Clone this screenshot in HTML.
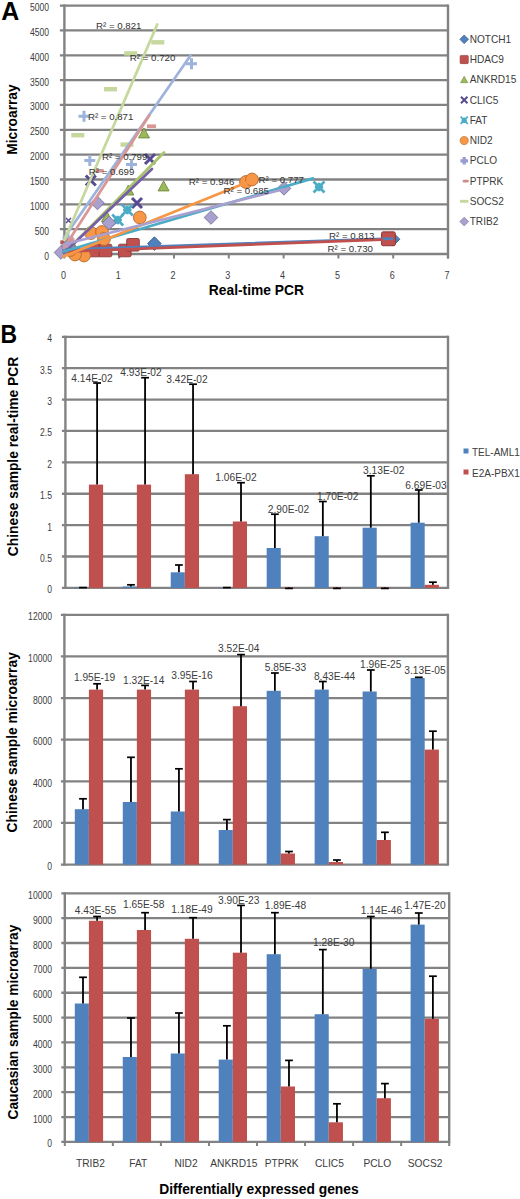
<!DOCTYPE html>
<html><head><meta charset="utf-8"><style>
html,body{margin:0;padding:0;background:#fff;}
body{width:520px;height:1199px;overflow:hidden;}
svg{display:block;font-family:"Liberation Sans", sans-serif;}
</style></head><body>
<svg width="520" height="1199" viewBox="0 0 520 1199">
<line x1="61.9" y1="336.8" x2="448" y2="336.8" stroke="#828282" stroke-width="2.3"/>
<line x1="61.9" y1="368.19" x2="448" y2="368.19" stroke="#828282" stroke-width="2.3"/>
<line x1="61.9" y1="399.57" x2="448" y2="399.57" stroke="#828282" stroke-width="2.3"/>
<line x1="61.9" y1="430.96" x2="448" y2="430.96" stroke="#828282" stroke-width="2.3"/>
<line x1="61.9" y1="462.35" x2="448" y2="462.35" stroke="#828282" stroke-width="2.3"/>
<line x1="61.9" y1="493.74" x2="448" y2="493.74" stroke="#828282" stroke-width="2.3"/>
<line x1="61.9" y1="525.12" x2="448" y2="525.12" stroke="#828282" stroke-width="2.3"/>
<line x1="61.9" y1="556.51" x2="448" y2="556.51" stroke="#828282" stroke-width="2.3"/>
<line x1="61.9" y1="587.9" x2="448" y2="587.9" stroke="#828282" stroke-width="2.3"/>
<rect x="74.8" y="587.3" width="14.1" height="0.6" fill="#4F81BD"/>
<rect x="88.9" y="484.6" width="14.2" height="103.3" fill="#C0504D"/>
<rect x="122.77" y="586.5" width="14.1" height="1.4" fill="#4F81BD"/>
<rect x="136.87" y="484.6" width="14.2" height="103.3" fill="#C0504D"/>
<rect x="170.74" y="572.3" width="14.1" height="15.6" fill="#4F81BD"/>
<rect x="184.84" y="474.2" width="14.2" height="113.7" fill="#C0504D"/>
<rect x="218.71" y="587.5" width="14.1" height="0.4" fill="#4F81BD"/>
<rect x="232.81" y="521.5" width="14.2" height="66.4" fill="#C0504D"/>
<rect x="266.68" y="548" width="14.1" height="39.9" fill="#4F81BD"/>
<rect x="280.78" y="587.6" width="14.2" height="0.3" fill="#C0504D"/>
<rect x="314.65" y="536.2" width="14.1" height="51.7" fill="#4F81BD"/>
<rect x="328.75" y="587.6" width="14.2" height="0.3" fill="#C0504D"/>
<rect x="362.62" y="527.7" width="14.1" height="60.2" fill="#4F81BD"/>
<rect x="376.72" y="587.6" width="14.2" height="0.3" fill="#C0504D"/>
<rect x="410.59" y="522.7" width="14.1" height="65.2" fill="#4F81BD"/>
<rect x="424.69" y="584.8" width="14.2" height="3.1" fill="#C0504D"/>
<line x1="65.4" y1="335.7" x2="65.4" y2="589" stroke="#828282" stroke-width="2.4"/>
<line x1="448" y1="335.7" x2="448" y2="589" stroke="#828282" stroke-width="2.4"/>
<line x1="83" y1="587.3" x2="83" y2="587.6" stroke="#000" stroke-width="1.8"/>
<line x1="79.1" y1="587.6" x2="86.9" y2="587.6" stroke="#000" stroke-width="1.7"/>
<line x1="97.1" y1="484.6" x2="97.1" y2="383" stroke="#000" stroke-width="1.8"/>
<line x1="93.2" y1="383" x2="101" y2="383" stroke="#000" stroke-width="1.7"/>
<line x1="130.97" y1="586.5" x2="130.97" y2="584.8" stroke="#000" stroke-width="1.8"/>
<line x1="127.07" y1="584.8" x2="134.87" y2="584.8" stroke="#000" stroke-width="1.7"/>
<line x1="145.07" y1="484.6" x2="145.07" y2="377.7" stroke="#000" stroke-width="1.8"/>
<line x1="141.17" y1="377.7" x2="148.97" y2="377.7" stroke="#000" stroke-width="1.7"/>
<line x1="178.94" y1="572.3" x2="178.94" y2="565" stroke="#000" stroke-width="1.8"/>
<line x1="175.04" y1="565" x2="182.84" y2="565" stroke="#000" stroke-width="1.7"/>
<line x1="193.04" y1="474.2" x2="193.04" y2="384.2" stroke="#000" stroke-width="1.8"/>
<line x1="189.14" y1="384.2" x2="196.94" y2="384.2" stroke="#000" stroke-width="1.7"/>
<line x1="226.91" y1="587.5" x2="226.91" y2="587.6" stroke="#000" stroke-width="1.8"/>
<line x1="223.01" y1="587.6" x2="230.81" y2="587.6" stroke="#000" stroke-width="1.7"/>
<line x1="241.01" y1="521.5" x2="241.01" y2="482.7" stroke="#000" stroke-width="1.8"/>
<line x1="237.11" y1="482.7" x2="244.91" y2="482.7" stroke="#000" stroke-width="1.7"/>
<line x1="274.88" y1="548" x2="274.88" y2="514.2" stroke="#000" stroke-width="1.8"/>
<line x1="270.98" y1="514.2" x2="278.78" y2="514.2" stroke="#000" stroke-width="1.7"/>
<line x1="288.98" y1="587.6" x2="288.98" y2="588.4" stroke="#000" stroke-width="1.8"/>
<line x1="285.08" y1="588.4" x2="292.88" y2="588.4" stroke="#000" stroke-width="1.7"/>
<line x1="322.85" y1="536.2" x2="322.85" y2="501.5" stroke="#000" stroke-width="1.8"/>
<line x1="318.95" y1="501.5" x2="326.75" y2="501.5" stroke="#000" stroke-width="1.7"/>
<line x1="336.95" y1="587.6" x2="336.95" y2="588.4" stroke="#000" stroke-width="1.8"/>
<line x1="333.05" y1="588.4" x2="340.85" y2="588.4" stroke="#000" stroke-width="1.7"/>
<line x1="370.82" y1="527.7" x2="370.82" y2="475.8" stroke="#000" stroke-width="1.8"/>
<line x1="366.92" y1="475.8" x2="374.72" y2="475.8" stroke="#000" stroke-width="1.7"/>
<line x1="384.92" y1="587.6" x2="384.92" y2="588.4" stroke="#000" stroke-width="1.8"/>
<line x1="381.02" y1="588.4" x2="388.82" y2="588.4" stroke="#000" stroke-width="1.7"/>
<line x1="418.79" y1="522.7" x2="418.79" y2="490" stroke="#000" stroke-width="1.8"/>
<line x1="414.89" y1="490" x2="422.69" y2="490" stroke="#000" stroke-width="1.7"/>
<line x1="432.89" y1="584.8" x2="432.89" y2="582.2" stroke="#000" stroke-width="1.8"/>
<line x1="428.99" y1="582.2" x2="436.79" y2="582.2" stroke="#000" stroke-width="1.7"/>
<text transform="translate(52,342.3) scale(0.86,1)" text-anchor="end" font-size="10" fill="#3c3c3c">4</text>
<text transform="translate(52,373.69) scale(0.86,1)" text-anchor="end" font-size="10" fill="#3c3c3c">3.5</text>
<text transform="translate(52,405.07) scale(0.86,1)" text-anchor="end" font-size="10" fill="#3c3c3c">3</text>
<text transform="translate(52,436.46) scale(0.86,1)" text-anchor="end" font-size="10" fill="#3c3c3c">2.5</text>
<text transform="translate(52,467.85) scale(0.86,1)" text-anchor="end" font-size="10" fill="#3c3c3c">2</text>
<text transform="translate(52,499.24) scale(0.86,1)" text-anchor="end" font-size="10" fill="#3c3c3c">1.5</text>
<text transform="translate(52,530.62) scale(0.86,1)" text-anchor="end" font-size="10" fill="#3c3c3c">1</text>
<text transform="translate(52,562.01) scale(0.86,1)" text-anchor="end" font-size="10" fill="#3c3c3c">0.5</text>
<text transform="translate(52,593.4) scale(0.86,1)" text-anchor="end" font-size="10" fill="#3c3c3c">0</text>
<text x="92" y="381.5" text-anchor="middle" font-size="10.2" fill="#3c3c3c">4.14E-02</text>
<text x="141" y="376.4" text-anchor="middle" font-size="10.2" fill="#3c3c3c">4.93E-02</text>
<text x="187" y="382.5" text-anchor="middle" font-size="10.2" fill="#3c3c3c">3.42E-02</text>
<text x="236" y="481" text-anchor="middle" font-size="10.2" fill="#3c3c3c">1.06E-02</text>
<text x="288.5" y="513.3" text-anchor="middle" font-size="10.2" fill="#3c3c3c">2.90E-02</text>
<text x="337.7" y="499.7" text-anchor="middle" font-size="10.2" fill="#3c3c3c">1.70E-02</text>
<text x="383.8" y="474.1" text-anchor="middle" font-size="10.2" fill="#3c3c3c">3.13E-02</text>
<text x="426" y="488.7" text-anchor="middle" font-size="10.2" fill="#3c3c3c">6.69E-03</text>
<line x1="60.9" y1="614.8" x2="447.9" y2="614.8" stroke="#828282" stroke-width="2.3"/>
<line x1="60.9" y1="656.43" x2="447.9" y2="656.43" stroke="#828282" stroke-width="2.3"/>
<line x1="60.9" y1="698.07" x2="447.9" y2="698.07" stroke="#828282" stroke-width="2.3"/>
<line x1="60.9" y1="739.7" x2="447.9" y2="739.7" stroke="#828282" stroke-width="2.3"/>
<line x1="60.9" y1="781.33" x2="447.9" y2="781.33" stroke="#828282" stroke-width="2.3"/>
<line x1="60.9" y1="822.97" x2="447.9" y2="822.97" stroke="#828282" stroke-width="2.3"/>
<line x1="60.9" y1="864.6" x2="447.9" y2="864.6" stroke="#828282" stroke-width="2.3"/>
<rect x="74.8" y="809.2" width="14.1" height="55.4" fill="#4F81BD"/>
<rect x="88.9" y="689.6" width="14.2" height="175" fill="#C0504D"/>
<rect x="122.77" y="802" width="14.1" height="62.6" fill="#4F81BD"/>
<rect x="136.87" y="689.6" width="14.2" height="175" fill="#C0504D"/>
<rect x="170.74" y="811.5" width="14.1" height="53.1" fill="#4F81BD"/>
<rect x="184.84" y="689.6" width="14.2" height="175" fill="#C0504D"/>
<rect x="218.71" y="830" width="14.1" height="34.6" fill="#4F81BD"/>
<rect x="232.81" y="706.2" width="14.2" height="158.4" fill="#C0504D"/>
<rect x="266.68" y="690.8" width="14.1" height="173.8" fill="#4F81BD"/>
<rect x="280.78" y="853.5" width="14.2" height="11.1" fill="#C0504D"/>
<rect x="314.65" y="689.6" width="14.1" height="175" fill="#4F81BD"/>
<rect x="328.75" y="862" width="14.2" height="2.6" fill="#C0504D"/>
<rect x="362.62" y="691.5" width="14.1" height="173.1" fill="#4F81BD"/>
<rect x="376.72" y="840" width="14.2" height="24.6" fill="#C0504D"/>
<rect x="410.59" y="678" width="14.1" height="186.6" fill="#4F81BD"/>
<rect x="424.69" y="749.6" width="14.2" height="115" fill="#C0504D"/>
<line x1="64.4" y1="613.7" x2="64.4" y2="865.7" stroke="#828282" stroke-width="2.4"/>
<line x1="447.9" y1="613.7" x2="447.9" y2="865.7" stroke="#828282" stroke-width="2.4"/>
<line x1="83" y1="809.2" x2="83" y2="798.8" stroke="#000" stroke-width="1.8"/>
<line x1="79.1" y1="798.8" x2="86.9" y2="798.8" stroke="#000" stroke-width="1.7"/>
<line x1="97.1" y1="689.6" x2="97.1" y2="683.8" stroke="#000" stroke-width="1.8"/>
<line x1="93.2" y1="683.8" x2="101" y2="683.8" stroke="#000" stroke-width="1.7"/>
<line x1="130.97" y1="802" x2="130.97" y2="757.3" stroke="#000" stroke-width="1.8"/>
<line x1="127.07" y1="757.3" x2="134.87" y2="757.3" stroke="#000" stroke-width="1.7"/>
<line x1="145.07" y1="689.6" x2="145.07" y2="685.4" stroke="#000" stroke-width="1.8"/>
<line x1="141.17" y1="685.4" x2="148.97" y2="685.4" stroke="#000" stroke-width="1.7"/>
<line x1="178.94" y1="811.5" x2="178.94" y2="768.8" stroke="#000" stroke-width="1.8"/>
<line x1="175.04" y1="768.8" x2="182.84" y2="768.8" stroke="#000" stroke-width="1.7"/>
<line x1="193.04" y1="689.6" x2="193.04" y2="681.5" stroke="#000" stroke-width="1.8"/>
<line x1="189.14" y1="681.5" x2="196.94" y2="681.5" stroke="#000" stroke-width="1.7"/>
<line x1="226.91" y1="830" x2="226.91" y2="819.6" stroke="#000" stroke-width="1.8"/>
<line x1="223.01" y1="819.6" x2="230.81" y2="819.6" stroke="#000" stroke-width="1.7"/>
<line x1="241.01" y1="706.2" x2="241.01" y2="654.6" stroke="#000" stroke-width="1.8"/>
<line x1="237.11" y1="654.6" x2="244.91" y2="654.6" stroke="#000" stroke-width="1.7"/>
<line x1="274.88" y1="690.8" x2="274.88" y2="673" stroke="#000" stroke-width="1.8"/>
<line x1="270.98" y1="673" x2="278.78" y2="673" stroke="#000" stroke-width="1.7"/>
<line x1="288.98" y1="853.5" x2="288.98" y2="851.5" stroke="#000" stroke-width="1.8"/>
<line x1="285.08" y1="851.5" x2="292.88" y2="851.5" stroke="#000" stroke-width="1.7"/>
<line x1="322.85" y1="689.6" x2="322.85" y2="681.5" stroke="#000" stroke-width="1.8"/>
<line x1="318.95" y1="681.5" x2="326.75" y2="681.5" stroke="#000" stroke-width="1.7"/>
<line x1="336.95" y1="862" x2="336.95" y2="860" stroke="#000" stroke-width="1.8"/>
<line x1="333.05" y1="860" x2="340.85" y2="860" stroke="#000" stroke-width="1.7"/>
<line x1="370.82" y1="691.5" x2="370.82" y2="670" stroke="#000" stroke-width="1.8"/>
<line x1="366.92" y1="670" x2="374.72" y2="670" stroke="#000" stroke-width="1.7"/>
<line x1="384.92" y1="840" x2="384.92" y2="832.3" stroke="#000" stroke-width="1.8"/>
<line x1="381.02" y1="832.3" x2="388.82" y2="832.3" stroke="#000" stroke-width="1.7"/>
<line x1="418.79" y1="678" x2="418.79" y2="677.3" stroke="#000" stroke-width="1.8"/>
<line x1="414.89" y1="677.3" x2="422.69" y2="677.3" stroke="#000" stroke-width="1.7"/>
<line x1="432.89" y1="749.6" x2="432.89" y2="731.2" stroke="#000" stroke-width="1.8"/>
<line x1="428.99" y1="731.2" x2="436.79" y2="731.2" stroke="#000" stroke-width="1.7"/>
<text transform="translate(52,620.3) scale(0.86,1)" text-anchor="end" font-size="10" fill="#3c3c3c">12000</text>
<text transform="translate(52,661.93) scale(0.86,1)" text-anchor="end" font-size="10" fill="#3c3c3c">10000</text>
<text transform="translate(52,703.57) scale(0.86,1)" text-anchor="end" font-size="10" fill="#3c3c3c">8000</text>
<text transform="translate(52,745.2) scale(0.86,1)" text-anchor="end" font-size="10" fill="#3c3c3c">6000</text>
<text transform="translate(52,786.83) scale(0.86,1)" text-anchor="end" font-size="10" fill="#3c3c3c">4000</text>
<text transform="translate(52,828.47) scale(0.86,1)" text-anchor="end" font-size="10" fill="#3c3c3c">2000</text>
<text transform="translate(52,870.1) scale(0.86,1)" text-anchor="end" font-size="10" fill="#3c3c3c">0</text>
<text x="94.6" y="680.9" text-anchor="middle" font-size="10.2" fill="#3c3c3c">1.95E-19</text>
<text x="143.8" y="683.7" text-anchor="middle" font-size="10.2" fill="#3c3c3c">1.32E-14</text>
<text x="192" y="678.5" text-anchor="middle" font-size="10.2" fill="#3c3c3c">3.95E-16</text>
<text x="238.8" y="652" text-anchor="middle" font-size="10.2" fill="#3c3c3c">3.52E-04</text>
<text x="285.4" y="670.7" text-anchor="middle" font-size="10.2" fill="#3c3c3c">5.85E-33</text>
<text x="334.6" y="679.7" text-anchor="middle" font-size="10.2" fill="#3c3c3c">8.43E-44</text>
<text x="380.8" y="667.7" text-anchor="middle" font-size="10.2" fill="#3c3c3c">1.96E-25</text>
<text x="425" y="674.3" text-anchor="middle" font-size="10.2" fill="#3c3c3c">3.13E-05</text>
<line x1="61.3" y1="893.3" x2="449.2" y2="893.3" stroke="#828282" stroke-width="2.3"/>
<line x1="61.3" y1="918.16" x2="449.2" y2="918.16" stroke="#828282" stroke-width="2.3"/>
<line x1="61.3" y1="943.02" x2="449.2" y2="943.02" stroke="#828282" stroke-width="2.3"/>
<line x1="61.3" y1="967.88" x2="449.2" y2="967.88" stroke="#828282" stroke-width="2.3"/>
<line x1="61.3" y1="992.74" x2="449.2" y2="992.74" stroke="#828282" stroke-width="2.3"/>
<line x1="61.3" y1="1017.6" x2="449.2" y2="1017.6" stroke="#828282" stroke-width="2.3"/>
<line x1="61.3" y1="1042.46" x2="449.2" y2="1042.46" stroke="#828282" stroke-width="2.3"/>
<line x1="61.3" y1="1067.32" x2="449.2" y2="1067.32" stroke="#828282" stroke-width="2.3"/>
<line x1="61.3" y1="1092.18" x2="449.2" y2="1092.18" stroke="#828282" stroke-width="2.3"/>
<line x1="61.3" y1="1117.04" x2="449.2" y2="1117.04" stroke="#828282" stroke-width="2.3"/>
<line x1="61.3" y1="1141.9" x2="449.2" y2="1141.9" stroke="#828282" stroke-width="2.3"/>
<rect x="74.8" y="1003.5" width="14.1" height="138.4" fill="#4F81BD"/>
<rect x="88.9" y="920.8" width="14.2" height="221.1" fill="#C0504D"/>
<rect x="122.77" y="1057" width="14.1" height="84.9" fill="#4F81BD"/>
<rect x="136.87" y="930" width="14.2" height="211.9" fill="#C0504D"/>
<rect x="170.74" y="1053.5" width="14.1" height="88.4" fill="#4F81BD"/>
<rect x="184.84" y="938.8" width="14.2" height="203.1" fill="#C0504D"/>
<rect x="218.71" y="1059.6" width="14.1" height="82.3" fill="#4F81BD"/>
<rect x="232.81" y="952.7" width="14.2" height="189.2" fill="#C0504D"/>
<rect x="266.68" y="954.2" width="14.1" height="187.7" fill="#4F81BD"/>
<rect x="280.78" y="1086.5" width="14.2" height="55.4" fill="#C0504D"/>
<rect x="314.65" y="1014.2" width="14.1" height="127.7" fill="#4F81BD"/>
<rect x="328.75" y="1122.3" width="14.2" height="19.6" fill="#C0504D"/>
<rect x="362.62" y="968.8" width="14.1" height="173.1" fill="#4F81BD"/>
<rect x="376.72" y="1098.2" width="14.2" height="43.7" fill="#C0504D"/>
<rect x="410.59" y="924.6" width="14.1" height="217.3" fill="#4F81BD"/>
<rect x="424.69" y="1018.8" width="14.2" height="123.1" fill="#C0504D"/>
<line x1="64.8" y1="892.2" x2="64.8" y2="1143" stroke="#828282" stroke-width="2.4"/>
<line x1="449.2" y1="892.2" x2="449.2" y2="1143" stroke="#828282" stroke-width="2.4"/>
<line x1="83" y1="1003.5" x2="83" y2="977.3" stroke="#000" stroke-width="1.8"/>
<line x1="79.1" y1="977.3" x2="86.9" y2="977.3" stroke="#000" stroke-width="1.7"/>
<line x1="97.1" y1="920.8" x2="97.1" y2="916.5" stroke="#000" stroke-width="1.8"/>
<line x1="93.2" y1="916.5" x2="101" y2="916.5" stroke="#000" stroke-width="1.7"/>
<line x1="130.97" y1="1057" x2="130.97" y2="1018" stroke="#000" stroke-width="1.8"/>
<line x1="127.07" y1="1018" x2="134.87" y2="1018" stroke="#000" stroke-width="1.7"/>
<line x1="145.07" y1="930" x2="145.07" y2="912.7" stroke="#000" stroke-width="1.8"/>
<line x1="141.17" y1="912.7" x2="148.97" y2="912.7" stroke="#000" stroke-width="1.7"/>
<line x1="178.94" y1="1053.5" x2="178.94" y2="1013" stroke="#000" stroke-width="1.8"/>
<line x1="175.04" y1="1013" x2="182.84" y2="1013" stroke="#000" stroke-width="1.7"/>
<line x1="193.04" y1="938.8" x2="193.04" y2="917.7" stroke="#000" stroke-width="1.8"/>
<line x1="189.14" y1="917.7" x2="196.94" y2="917.7" stroke="#000" stroke-width="1.7"/>
<line x1="226.91" y1="1059.6" x2="226.91" y2="1025.8" stroke="#000" stroke-width="1.8"/>
<line x1="223.01" y1="1025.8" x2="230.81" y2="1025.8" stroke="#000" stroke-width="1.7"/>
<line x1="241.01" y1="952.7" x2="241.01" y2="905.4" stroke="#000" stroke-width="1.8"/>
<line x1="237.11" y1="905.4" x2="244.91" y2="905.4" stroke="#000" stroke-width="1.7"/>
<line x1="274.88" y1="954.2" x2="274.88" y2="912.7" stroke="#000" stroke-width="1.8"/>
<line x1="270.98" y1="912.7" x2="278.78" y2="912.7" stroke="#000" stroke-width="1.7"/>
<line x1="288.98" y1="1086.5" x2="288.98" y2="1060.4" stroke="#000" stroke-width="1.8"/>
<line x1="285.08" y1="1060.4" x2="292.88" y2="1060.4" stroke="#000" stroke-width="1.7"/>
<line x1="322.85" y1="1014.2" x2="322.85" y2="949.6" stroke="#000" stroke-width="1.8"/>
<line x1="318.95" y1="949.6" x2="326.75" y2="949.6" stroke="#000" stroke-width="1.7"/>
<line x1="336.95" y1="1122.3" x2="336.95" y2="1103.8" stroke="#000" stroke-width="1.8"/>
<line x1="333.05" y1="1103.8" x2="340.85" y2="1103.8" stroke="#000" stroke-width="1.7"/>
<line x1="370.82" y1="968.8" x2="370.82" y2="916.5" stroke="#000" stroke-width="1.8"/>
<line x1="366.92" y1="916.5" x2="374.72" y2="916.5" stroke="#000" stroke-width="1.7"/>
<line x1="384.92" y1="1098.2" x2="384.92" y2="1083.6" stroke="#000" stroke-width="1.8"/>
<line x1="381.02" y1="1083.6" x2="388.82" y2="1083.6" stroke="#000" stroke-width="1.7"/>
<line x1="418.79" y1="924.6" x2="418.79" y2="913" stroke="#000" stroke-width="1.8"/>
<line x1="414.89" y1="913" x2="422.69" y2="913" stroke="#000" stroke-width="1.7"/>
<line x1="432.89" y1="1018.8" x2="432.89" y2="976.2" stroke="#000" stroke-width="1.8"/>
<line x1="428.99" y1="976.2" x2="436.79" y2="976.2" stroke="#000" stroke-width="1.7"/>
<text transform="translate(52,898.8) scale(0.86,1)" text-anchor="end" font-size="10" fill="#3c3c3c">10000</text>
<text transform="translate(52,923.66) scale(0.86,1)" text-anchor="end" font-size="10" fill="#3c3c3c">9000</text>
<text transform="translate(52,948.52) scale(0.86,1)" text-anchor="end" font-size="10" fill="#3c3c3c">8000</text>
<text transform="translate(52,973.38) scale(0.86,1)" text-anchor="end" font-size="10" fill="#3c3c3c">7000</text>
<text transform="translate(52,998.24) scale(0.86,1)" text-anchor="end" font-size="10" fill="#3c3c3c">6000</text>
<text transform="translate(52,1023.1) scale(0.86,1)" text-anchor="end" font-size="10" fill="#3c3c3c">5000</text>
<text transform="translate(52,1047.96) scale(0.86,1)" text-anchor="end" font-size="10" fill="#3c3c3c">4000</text>
<text transform="translate(52,1072.82) scale(0.86,1)" text-anchor="end" font-size="10" fill="#3c3c3c">3000</text>
<text transform="translate(52,1097.68) scale(0.86,1)" text-anchor="end" font-size="10" fill="#3c3c3c">2000</text>
<text transform="translate(52,1122.54) scale(0.86,1)" text-anchor="end" font-size="10" fill="#3c3c3c">1000</text>
<text transform="translate(52,1147.4) scale(0.86,1)" text-anchor="end" font-size="10" fill="#3c3c3c">0</text>
<text x="95.4" y="913.7" text-anchor="middle" font-size="10.2" fill="#3c3c3c">4.43E-55</text>
<text x="143.8" y="907.9" text-anchor="middle" font-size="10.2" fill="#3c3c3c">1.65E-58</text>
<text x="192" y="912.5" text-anchor="middle" font-size="10.2" fill="#3c3c3c">1.18E-49</text>
<text x="238.8" y="903.7" text-anchor="middle" font-size="10.2" fill="#3c3c3c">3.90E-23</text>
<text x="285.4" y="909.1" text-anchor="middle" font-size="10.2" fill="#3c3c3c">1.89E-48</text>
<text x="333.8" y="945.6" text-anchor="middle" font-size="10.2" fill="#3c3c3c">1.28E-30</text>
<text x="381.5" y="913.9" text-anchor="middle" font-size="10.2" fill="#3c3c3c">1.14E-46</text>
<text x="425" y="909.1" text-anchor="middle" font-size="10.2" fill="#3c3c3c">1.47E-20</text>
<line x1="64.8" y1="1141.9" x2="64.8" y2="1146" stroke="#828282" stroke-width="2"/>
<line x1="112.85" y1="1141.9" x2="112.85" y2="1146" stroke="#828282" stroke-width="2"/>
<line x1="160.9" y1="1141.9" x2="160.9" y2="1146" stroke="#828282" stroke-width="2"/>
<line x1="208.95" y1="1141.9" x2="208.95" y2="1146" stroke="#828282" stroke-width="2"/>
<line x1="257" y1="1141.9" x2="257" y2="1146" stroke="#828282" stroke-width="2"/>
<line x1="305.05" y1="1141.9" x2="305.05" y2="1146" stroke="#828282" stroke-width="2"/>
<line x1="353.1" y1="1141.9" x2="353.1" y2="1146" stroke="#828282" stroke-width="2"/>
<line x1="401.15" y1="1141.9" x2="401.15" y2="1146" stroke="#828282" stroke-width="2"/>
<line x1="449.2" y1="1141.9" x2="449.2" y2="1146" stroke="#828282" stroke-width="2"/>
<text x="90.41" y="1167.2" text-anchor="middle" font-size="10.2" fill="#3c3c3c">TRIB2</text>
<text x="138.22" y="1167.2" text-anchor="middle" font-size="10.2" fill="#3c3c3c">FAT</text>
<text x="186.03" y="1167.2" text-anchor="middle" font-size="10.2" fill="#3c3c3c">NID2</text>
<text x="233.84" y="1167.2" text-anchor="middle" font-size="10.2" fill="#3c3c3c">ANKRD15</text>
<text x="281.66" y="1167.2" text-anchor="middle" font-size="10.2" fill="#3c3c3c">PTPRK</text>
<text x="329.47" y="1167.2" text-anchor="middle" font-size="10.2" fill="#3c3c3c">CLIC5</text>
<text x="377.28" y="1167.2" text-anchor="middle" font-size="10.2" fill="#3c3c3c">PCLO</text>
<text x="425.09" y="1167.2" text-anchor="middle" font-size="10.2" fill="#3c3c3c">SOCS2</text>
<rect x="463.5" y="448.5" width="5" height="5" fill="#4F81BD"/>
<text x="472" y="456" font-size="10" fill="#3c3c3c">TEL-AML1</text>
<rect x="463.5" y="469.5" width="5" height="5" fill="#C0504D"/>
<text x="472" y="477" font-size="10" fill="#3c3c3c">E2A-PBX1</text>
<text x="0" y="0" transform="translate(18.2,456.5) rotate(-90)" text-anchor="middle" font-size="13.8" font-weight="bold" fill="#000">Chinese sample real-time PCR</text>
<text x="0" y="0" transform="translate(17.2,742.3) rotate(-90)" text-anchor="middle" font-size="13.8" font-weight="bold" fill="#000">Chinese sample microarray</text>
<text x="0" y="0" transform="translate(17.6,1022.1) rotate(-90)" text-anchor="middle" font-size="13.75" font-weight="bold" fill="#000">Caucasian sample microarray</text>
<text x="258.9" y="1194.2" text-anchor="middle" font-size="13.8" font-weight="bold" fill="#000">Differentially expressed genes</text>
<text x="0" y="0" transform="translate(0.6,342.7) scale(0.92,1)" font-size="25" font-weight="bold" fill="#000">B</text>
<line x1="59.9" y1="5.6" x2="448" y2="5.6" stroke="#828282" stroke-width="2.3"/>
<line x1="59.9" y1="30.44" x2="448" y2="30.44" stroke="#828282" stroke-width="2.3"/>
<line x1="59.9" y1="55.28" x2="448" y2="55.28" stroke="#828282" stroke-width="2.3"/>
<line x1="59.9" y1="80.12" x2="448" y2="80.12" stroke="#828282" stroke-width="2.3"/>
<line x1="59.9" y1="104.96" x2="448" y2="104.96" stroke="#828282" stroke-width="2.3"/>
<line x1="59.9" y1="129.8" x2="448" y2="129.8" stroke="#828282" stroke-width="2.3"/>
<line x1="59.9" y1="154.64" x2="448" y2="154.64" stroke="#828282" stroke-width="2.3"/>
<line x1="59.9" y1="179.48" x2="448" y2="179.48" stroke="#828282" stroke-width="2.3"/>
<line x1="59.9" y1="204.32" x2="448" y2="204.32" stroke="#828282" stroke-width="2.3"/>
<line x1="59.9" y1="229.16" x2="448" y2="229.16" stroke="#828282" stroke-width="2.3"/>
<line x1="59.9" y1="254" x2="448" y2="254" stroke="#828282" stroke-width="2.3"/>
<line x1="64.4" y1="4.5" x2="64.4" y2="255.1" stroke="#828282" stroke-width="2.4"/>
<line x1="448" y1="4.5" x2="448" y2="258.5" stroke="#828282" stroke-width="2.4"/>
<line x1="64.4" y1="254" x2="64.4" y2="258.5" stroke="#828282" stroke-width="2"/>
<line x1="119.2" y1="254" x2="119.2" y2="258.5" stroke="#828282" stroke-width="2"/>
<line x1="174" y1="254" x2="174" y2="258.5" stroke="#828282" stroke-width="2"/>
<line x1="228.8" y1="254" x2="228.8" y2="258.5" stroke="#828282" stroke-width="2"/>
<line x1="283.6" y1="254" x2="283.6" y2="258.5" stroke="#828282" stroke-width="2"/>
<line x1="338.4" y1="254" x2="338.4" y2="258.5" stroke="#828282" stroke-width="2"/>
<line x1="393.2" y1="254" x2="393.2" y2="258.5" stroke="#828282" stroke-width="2"/>
<line x1="448" y1="254" x2="448" y2="258.5" stroke="#828282" stroke-width="2"/>
<path d="M154.4,236.8 L161.2,243.6 L154.4,250.4 L147.6,243.6Z" fill="#4F81BD" stroke="#385c88" stroke-width="0.9"/>
<path d="M393,232.4 L399.8,239.2 L393,246 L386.2,239.2Z" fill="#4F81BD" stroke="#385c88" stroke-width="0.9"/>
<path d="M70,243.2 L76.8,250 L70,256.8 L63.2,250Z" fill="#4F81BD" stroke="#385c88" stroke-width="0.9"/>
<rect x="60.51" y="240.41" width="3.78" height="3.78" rx="0.45" fill="#C0504D" stroke="#8a3937" stroke-width="0.27"/>
<rect x="88.2" y="244.2" width="12.6" height="12.6" rx="1.5" fill="#C0504D" stroke="#8a3937" stroke-width="0.9"/>
<rect x="99.2" y="244.2" width="12.6" height="12.6" rx="1.5" fill="#C0504D" stroke="#8a3937" stroke-width="0.9"/>
<rect x="118.5" y="244.2" width="12.6" height="12.6" rx="1.5" fill="#C0504D" stroke="#8a3937" stroke-width="0.9"/>
<rect x="126.7" y="238.5" width="12.6" height="12.6" rx="1.5" fill="#C0504D" stroke="#8a3937" stroke-width="0.9"/>
<rect x="381.47" y="231.87" width="13.86" height="13.86" rx="1.65" fill="#C0504D" stroke="#8a3937" stroke-width="0.99"/>
<path d="M107,211.8 L112.5,221.7 L101.5,221.7Z" fill="#9BBB59" stroke="#6f8640" stroke-width="0.9"/>
<path d="M128.3,185.1 L133.8,195 L122.8,195Z" fill="#9BBB59" stroke="#6f8640" stroke-width="0.9"/>
<path d="M144,128 L149.5,137.9 L138.5,137.9Z" fill="#9BBB59" stroke="#6f8640" stroke-width="0.9"/>
<path d="M163.6,181 L169.1,190.9 L158.1,190.9Z" fill="#9BBB59" stroke="#6f8640" stroke-width="0.9"/>
<path d="M72,239.5 L77.5,249.4 L66.5,249.4Z" fill="#9BBB59" stroke="#6f8640" stroke-width="0.9"/>
<path d="M66,218 L71,223 M71,218 L66,223" stroke="#574A92" stroke-width="1.5" fill="none"/>
<path d="M85.8,175.5 L95.8,185.5 M95.8,175.5 L85.8,185.5" stroke="#574A92" stroke-width="3" fill="none"/>
<path d="M132,198 L142,208 M142,198 L132,208" stroke="#574A92" stroke-width="3" fill="none"/>
<path d="M145,154 L155,164 M155,154 L145,164" stroke="#574A92" stroke-width="3" fill="none"/>
<path d="M121.8,204.5 L132.8,215.5 M132.8,204.5 L121.8,215.5 M127.3,205.8 L127.3,214.2 M123.1,210 L131.5,210" stroke="#4BACC6" stroke-width="2.6" fill="none"/>
<path d="M112.2,214.5 L123.2,225.5 M123.2,214.5 L112.2,225.5 M117.7,215.8 L117.7,224.2 M113.5,220 L121.9,220" stroke="#4BACC6" stroke-width="2.6" fill="none"/>
<path d="M313.5,181.5 L324.5,192.5 M324.5,181.5 L313.5,192.5 M319,182.8 L319,191.2 M314.8,187 L323.2,187" stroke="#4BACC6" stroke-width="2.6" fill="none"/>
<path d="M64.5,241.5 L75.5,252.5 M75.5,241.5 L64.5,252.5 M70,242.8 L70,251.2 M65.8,247 L74.2,247" stroke="#4BACC6" stroke-width="2.6" fill="none"/>
<circle cx="84" cy="255.5" r="6.4" fill="#F79646" stroke="#b16c32" stroke-width="0.9"/>
<circle cx="75" cy="254.5" r="6.4" fill="#F79646" stroke="#b16c32" stroke-width="0.9"/>
<circle cx="91" cy="233" r="6.4" fill="#F79646" stroke="#b16c32" stroke-width="0.9"/>
<circle cx="102" cy="232" r="6.4" fill="#F79646" stroke="#b16c32" stroke-width="0.9"/>
<circle cx="104" cy="239" r="6.4" fill="#F79646" stroke="#b16c32" stroke-width="0.9"/>
<circle cx="139.8" cy="217.5" r="6.4" fill="#F79646" stroke="#b16c32" stroke-width="0.9"/>
<circle cx="246" cy="182" r="6.4" fill="#F79646" stroke="#b16c32" stroke-width="0.9"/>
<circle cx="252" cy="179.5" r="6.4" fill="#F79646" stroke="#b16c32" stroke-width="0.9"/>
<circle cx="70" cy="250" r="6.4" fill="#F79646" stroke="#b16c32" stroke-width="0.9"/>
<path d="M78.5,116.2 L89.5,116.2 M84,110.7 L84,121.7" stroke="#9DB3DC" stroke-width="3" fill="none"/>
<path d="M84.3,160.6 L95.3,160.6 M89.8,155.1 L89.8,166.1" stroke="#9DB3DC" stroke-width="3" fill="none"/>
<path d="M126,164.6 L137,164.6 M131.5,159.1 L131.5,170.1" stroke="#9DB3DC" stroke-width="3" fill="none"/>
<path d="M186,63.8 L197,63.8 M191.5,58.3 L191.5,69.3" stroke="#9DB3DC" stroke-width="3" fill="none"/>
<path d="M62.5,238 L73.5,238 M68,232.5 L68,243.5" stroke="#9DB3DC" stroke-width="3" fill="none"/>
<rect x="94.7" y="169" width="9" height="3.6" fill="#D99694"/>
<rect x="147" y="124.4" width="9" height="3.6" fill="#D99694"/>
<rect x="65.5" y="238.2" width="9" height="3.6" fill="#D99694"/>
<rect x="71.3" y="133" width="13" height="4.4" fill="#C6D89E"/>
<rect x="104" y="87" width="13" height="4.4" fill="#C6D89E"/>
<rect x="120.5" y="142.4" width="13" height="4.4" fill="#C6D89E"/>
<rect x="124.2" y="51.2" width="13" height="4.4" fill="#C6D89E"/>
<rect x="151.3" y="40.1" width="13" height="4.4" fill="#C6D89E"/>
<path d="M97.5,196.2 L104.3,203 L97.5,209.8 L90.7,203Z" fill="#A9A0D0" stroke="#797395" stroke-width="0.9"/>
<path d="M109,216.2 L115.8,223 L109,229.8 L102.2,223Z" fill="#A9A0D0" stroke="#797395" stroke-width="0.9"/>
<path d="M211,210.7 L217.8,217.5 L211,224.3 L204.2,217.5Z" fill="#A9A0D0" stroke="#797395" stroke-width="0.9"/>
<path d="M284,181.6 L290.8,188.4 L284,195.2 L277.2,188.4Z" fill="#A9A0D0" stroke="#797395" stroke-width="0.9"/>
<path d="M68,239.2 L74.8,246 L68,252.8 L61.2,246Z" fill="#A9A0D0" stroke="#797395" stroke-width="0.9"/>
<path d="M61,245.7 L67.8,252.5 L61,259.3 L54.2,252.5Z" fill="#A9A0D0" stroke="#797395" stroke-width="0.9"/>
<line x1="63.5" y1="249.5" x2="392" y2="238.6" stroke="#4F81BD" stroke-width="2.7" stroke-linecap="round"/>
<line x1="63.5" y1="251.6" x2="382" y2="239.6" stroke="#C0504D" stroke-width="2.7" stroke-linecap="round"/>
<line x1="64" y1="253.5" x2="164" y2="152.5" stroke="#A9C46A" stroke-width="2.7" stroke-linecap="round"/>
<line x1="64" y1="253" x2="152" y2="169" stroke="#7560A8" stroke-width="2.7" stroke-linecap="round"/>
<line x1="63.5" y1="251.5" x2="313" y2="178.4" stroke="#4BACC6" stroke-width="2.7" stroke-linecap="round"/>
<line x1="63.5" y1="256.5" x2="248" y2="182" stroke="#F79646" stroke-width="2.7" stroke-linecap="round"/>
<line x1="64" y1="238" x2="190.5" y2="55.6" stroke="#9DB3DC" stroke-width="2.7" stroke-linecap="round"/>
<line x1="64" y1="248" x2="149.2" y2="115.5" stroke="#D99694" stroke-width="2.7" stroke-linecap="round"/>
<line x1="64.4" y1="240" x2="157.3" y2="24.4" stroke="#C6D89E" stroke-width="2.7" stroke-linecap="round"/>
<line x1="63.5" y1="244.5" x2="283.5" y2="189.3" stroke="#A9A0D0" stroke-width="2.7" stroke-linecap="round"/>
<text x="96" y="28.9" font-size="9.7" fill="#333">R² = 0.821</text>
<text x="129.8" y="61.1" font-size="9.7" fill="#333">R² = 0.720</text>
<text x="87.9" y="119.9" font-size="9.7" fill="#333">R² = 0.871</text>
<text x="101.9" y="160.2" font-size="9.7" fill="#333">R² = 0.799</text>
<text x="88.8" y="175.1" font-size="9.7" fill="#333">R² = 0.699</text>
<text x="188.8" y="184.9" font-size="9.7" fill="#333">R² = 0.946</text>
<text x="223.5" y="194.4" font-size="9.7" fill="#333">R² = 0.685</text>
<text x="258.5" y="183.3" font-size="9.7" fill="#333">R² = 0.777</text>
<text x="329" y="238.9" font-size="9.7" fill="#333">R² = 0.813</text>
<text x="327.5" y="251.9" font-size="9.7" fill="#333">R² = 0.730</text>
<text transform="translate(63.4,278.6) scale(0.9,1)" text-anchor="middle" font-size="10" fill="#3c3c3c">0</text>
<text transform="translate(118.2,278.6) scale(0.9,1)" text-anchor="middle" font-size="10" fill="#3c3c3c">1</text>
<text transform="translate(173,278.6) scale(0.9,1)" text-anchor="middle" font-size="10" fill="#3c3c3c">2</text>
<text transform="translate(227.8,278.6) scale(0.9,1)" text-anchor="middle" font-size="10" fill="#3c3c3c">3</text>
<text transform="translate(282.6,278.6) scale(0.9,1)" text-anchor="middle" font-size="10" fill="#3c3c3c">4</text>
<text transform="translate(337.4,278.6) scale(0.9,1)" text-anchor="middle" font-size="10" fill="#3c3c3c">5</text>
<text transform="translate(392.2,278.6) scale(0.9,1)" text-anchor="middle" font-size="10" fill="#3c3c3c">6</text>
<text transform="translate(447,278.6) scale(0.9,1)" text-anchor="middle" font-size="10" fill="#3c3c3c">7</text>
<text transform="translate(49,11.1) scale(0.86,1)" text-anchor="end" font-size="10" fill="#3c3c3c">5000</text>
<text transform="translate(49,35.94) scale(0.86,1)" text-anchor="end" font-size="10" fill="#3c3c3c">4500</text>
<text transform="translate(49,60.78) scale(0.86,1)" text-anchor="end" font-size="10" fill="#3c3c3c">4000</text>
<text transform="translate(49,85.62) scale(0.86,1)" text-anchor="end" font-size="10" fill="#3c3c3c">3500</text>
<text transform="translate(49,110.46) scale(0.86,1)" text-anchor="end" font-size="10" fill="#3c3c3c">3000</text>
<text transform="translate(49,135.3) scale(0.86,1)" text-anchor="end" font-size="10" fill="#3c3c3c">2500</text>
<text transform="translate(49,160.14) scale(0.86,1)" text-anchor="end" font-size="10" fill="#3c3c3c">2000</text>
<text transform="translate(49,184.98) scale(0.86,1)" text-anchor="end" font-size="10" fill="#3c3c3c">1500</text>
<text transform="translate(49,209.82) scale(0.86,1)" text-anchor="end" font-size="10" fill="#3c3c3c">1000</text>
<text transform="translate(49,234.66) scale(0.86,1)" text-anchor="end" font-size="10" fill="#3c3c3c">500</text>
<text transform="translate(49,259.5) scale(0.86,1)" text-anchor="end" font-size="10" fill="#3c3c3c">0</text>
<text x="256.4" y="294.8" text-anchor="middle" font-size="13.8" font-weight="bold" fill="#000">Real-time PCR</text>
<text x="0" y="0" transform="translate(16.9,119.5) rotate(-90)" text-anchor="middle" font-size="13.75" font-weight="bold" fill="#000">Microarray</text>
<text x="1.2" y="20.3" font-size="25" font-weight="bold" fill="#000">A</text>
<path d="M464.2,34.88 L468.62,39.3 L464.2,43.72 L459.78,39.3Z" fill="#4F81BD" stroke="#385c88" stroke-width="0.59"/>
<text x="469.7" y="42.9" font-size="10.1" fill="#3c3c3c">NOTCH1</text>
<rect x="460.1" y="55.45" width="8.19" height="8.19" rx="0.98" fill="#C0504D" stroke="#8a3937" stroke-width="0.59"/>
<text x="469.7" y="63.15" font-size="10.1" fill="#3c3c3c">HDAC9</text>
<path d="M464.2,76.22 L467.77,82.66 L460.62,82.66Z" fill="#9BBB59" stroke="#6f8640" stroke-width="0.59"/>
<text x="469.7" y="83.4" font-size="10.1" fill="#3c3c3c">ANKRD15</text>
<path d="M460.95,96.8 L467.45,103.3 M467.45,96.8 L460.95,103.3" stroke="#574A92" stroke-width="1.95" fill="none"/>
<text x="469.7" y="103.65" font-size="10.1" fill="#3c3c3c">CLIC5</text>
<path d="M460.62,116.72 L467.77,123.88 M467.77,116.72 L460.62,123.88 M464.2,117.57 L464.2,123.03 M461.47,120.3 L466.93,120.3" stroke="#4BACC6" stroke-width="1.69" fill="none"/>
<text x="469.7" y="123.9" font-size="10.1" fill="#3c3c3c">FAT</text>
<circle cx="464.2" cy="140.55" r="4.16" fill="#F79646" stroke="#b16c32" stroke-width="0.59"/>
<text x="469.7" y="144.15" font-size="10.1" fill="#3c3c3c">NID2</text>
<path d="M460.4,160.8 L468,160.8 M464.2,157 L464.2,164.6" stroke="#9A9CD0" stroke-width="3.2" fill="none"/>
<text x="469.7" y="164.4" font-size="10.1" fill="#3c3c3c">PCLO</text>
<rect x="462.7" y="179.65" width="6" height="2.8" rx="1.2" fill="#C98C8A"/>
<text x="469.7" y="184.65" font-size="10.1" fill="#3c3c3c">PTPRK</text>
<rect x="459.97" y="199.87" width="8.45" height="2.86" fill="#C6D89E"/>
<text x="469.7" y="204.9" font-size="10.1" fill="#3c3c3c">SOCS2</text>
<path d="M464.2,217.13 L468.62,221.55 L464.2,225.97 L459.78,221.55Z" fill="#A9A0D0" stroke="#797395" stroke-width="0.59"/>
<text x="469.7" y="225.15" font-size="10.1" fill="#3c3c3c">TRIB2</text>
</svg>
</body></html>
